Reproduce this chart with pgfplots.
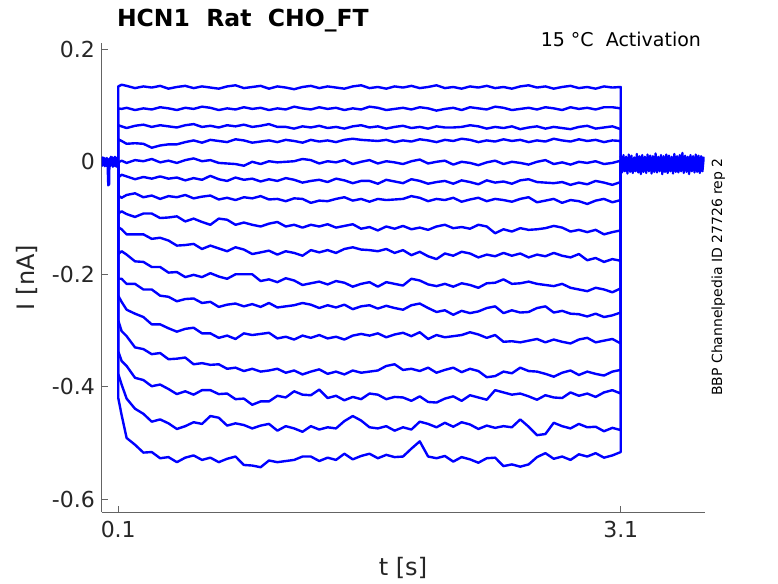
\documentclass[border=0pt]{standalone}
\usepackage{fontspec}
\setmainfont{DejaVu Sans}
\usepackage{pgfplots}
\pgfplotsset{compat=1.18}
\definecolor{trace}{RGB}{0,0,255}
\definecolor{axgray}{RGB}{100,100,100}
\definecolor{txt}{RGB}{38,38,38}
\pgfplotscreateplotcyclelist{tracelist}{trace,mark=none,solid,line width=2.4pt,line join=round\\}
\begin{document}
\begin{tikzpicture}
\useasboundingbox (-101.5pt,-71pt) rectangle (676.5pt,512pt);
\begin{axis}[
  at={(0pt,0pt)}, anchor=south west,
  scale only axis, width=603pt, height=469pt,
  xmin=0, xmax=3.6, ymin=-0.6226, ymax=0.2112,
  axis lines*=left,
  axis line style={axgray, line width=0.7pt},
  tick align=inside, major tick length=6pt,
  tick style={axgray, line width=0.7pt},
  xtick={0.1,3.1}, xticklabels={0.1,3.1},
  ytick={-0.6,-0.4,-0.2,0,0.2},
  yticklabels={-0.6,-0.4,-0.2,{0\hspace{23pt}},{0.2\hspace{7pt}}},
  /pgf/number format/assume math mode=true,
  ticklabel style={font=\fontsize{22}{26}\selectfont, text=txt},
  yticklabel style={anchor=east, xshift=-3.2pt},
  xticklabel style={anchor=north, yshift=-5.7pt},
  cycle list name=tracelist,
]
% pre-step baseline
\addplot+[line width=2.2pt] coordinates {(0.000,0.005)(0.004,-0.007)(0.008,0.008)(0.012,-0.006)(0.016,0.007)(0.020,-0.008)(0.024,0.006)(0.028,-0.007)(0.032,0.007)(0.036,-0.005)(0.040,-0.042)(0.046,-0.040)(0.048,0.006)(0.052,-0.008)(0.056,0.009)(0.060,-0.006)(0.064,0.008)(0.068,-0.009)(0.072,0.007)(0.076,-0.007)(0.080,0.009)(0.084,-0.008)(0.088,0.007)(0.092,-0.009)(0.096,0.008)(0.100,0.000)};
% tail after step
\addplot+[line width=2.2pt] coordinates {(3.100,0.010)(3.108,-0.019)(3.116,0.012)(3.124,-0.017)(3.132,0.009)(3.140,-0.021)(3.148,0.013)(3.156,-0.018)(3.164,0.011)(3.172,-0.020)(3.180,0.008)(3.188,-0.017)(3.196,0.014)(3.204,-0.019)(3.212,0.010)(3.220,-0.022)(3.228,0.012)(3.236,-0.018)(3.244,0.009)(3.252,-0.020)(3.260,0.013)(3.268,-0.017)(3.276,0.011)(3.284,-0.021)(3.292,0.010)(3.300,-0.018)(3.308,0.015)(3.316,-0.019)(3.324,0.009)(3.332,-0.017)(3.340,0.012)(3.348,-0.022)(3.356,0.010)(3.364,-0.018)(3.372,0.013)(3.380,-0.020)(3.388,0.011)(3.396,-0.017)(3.404,0.009)(3.412,-0.021)(3.420,0.014)(3.428,-0.018)(3.436,0.010)(3.444,-0.019)(3.452,0.012)(3.460,-0.017)(3.468,0.016)(3.476,-0.020)(3.484,0.011)(3.492,-0.018)(3.500,0.009)(3.508,-0.022)(3.516,0.012)(3.524,-0.017)(3.532,0.010)(3.540,-0.019)(3.548,0.013)(3.556,-0.018)(3.564,0.011)(3.572,-0.020)(3.580,0.010)(3.588,-0.017)(3.596,0.009)};
% trace 1
\addplot coordinates {(0.1,0)(0.10,0.134)(0.12,0.137)(0.15,0.135)(0.20,0.131)(0.25,0.134)(0.30,0.132)(0.35,0.135)(0.40,0.130)(0.45,0.133)(0.50,0.135)(0.55,0.131)(0.60,0.134)(0.65,0.132)(0.70,0.130)(0.75,0.134)(0.80,0.136)(0.85,0.131)(0.90,0.133)(0.95,0.135)(1.00,0.130)(1.05,0.134)(1.10,0.132)(1.15,0.129)(1.20,0.133)(1.25,0.135)(1.30,0.131)(1.35,0.134)(1.40,0.132)(1.45,0.130)(1.50,0.134)(1.55,0.136)(1.60,0.131)(1.65,0.133)(1.70,0.130)(1.75,0.134)(1.80,0.132)(1.85,0.135)(1.90,0.131)(1.95,0.133)(2.00,0.136)(2.05,0.131)(2.10,0.133)(2.15,0.130)(2.20,0.134)(2.25,0.132)(2.30,0.135)(2.35,0.131)(2.40,0.133)(2.45,0.130)(2.50,0.134)(2.55,0.136)(2.60,0.132)(2.65,0.134)(2.70,0.130)(2.75,0.133)(2.80,0.135)(2.85,0.131)(2.90,0.133)(2.95,0.130)(3.00,0.134)(3.05,0.132)(3.10,0.133)(3.1,0)};
% trace 2
\addplot coordinates {(0.1,0)(0.10,0.095)(0.12,0.094)(0.15,0.096)(0.20,0.092)(0.25,0.095)(0.30,0.093)(0.35,0.097)(0.40,0.095)(0.45,0.092)(0.50,0.096)(0.55,0.094)(0.60,0.098)(0.65,0.096)(0.70,0.092)(0.75,0.095)(0.80,0.093)(0.85,0.097)(0.90,0.094)(0.95,0.096)(1.00,0.092)(1.05,0.095)(1.10,0.093)(1.15,0.098)(1.20,0.095)(1.25,0.093)(1.30,0.097)(1.35,0.094)(1.40,0.096)(1.45,0.092)(1.50,0.095)(1.55,0.093)(1.60,0.098)(1.65,0.096)(1.70,0.092)(1.75,0.094)(1.80,0.096)(1.85,0.093)(1.90,0.097)(1.95,0.095)(2.00,0.091)(2.05,0.094)(2.10,0.096)(2.15,0.092)(2.20,0.097)(2.25,0.095)(2.30,0.093)(2.35,0.098)(2.40,0.096)(2.45,0.092)(2.50,0.094)(2.55,0.096)(2.60,0.093)(2.65,0.097)(2.70,0.095)(2.75,0.092)(2.80,0.097)(2.85,0.094)(2.90,0.096)(2.95,0.093)(3.00,0.097)(3.05,0.097)(3.10,0.095)(3.1,0)};
% trace 3
\addplot coordinates {(0.1,0)(0.10,0.065)(0.12,0.063)(0.15,0.060)(0.20,0.064)(0.25,0.066)(0.30,0.062)(0.35,0.065)(0.40,0.063)(0.45,0.061)(0.50,0.065)(0.55,0.067)(0.60,0.062)(0.65,0.064)(0.70,0.061)(0.75,0.065)(0.80,0.063)(0.85,0.066)(0.90,0.062)(0.95,0.064)(1.00,0.067)(1.05,0.062)(1.10,0.062)(1.15,0.059)(1.20,0.063)(1.25,0.061)(1.30,0.064)(1.35,0.060)(1.40,0.062)(1.45,0.059)(1.50,0.063)(1.55,0.065)(1.60,0.061)(1.65,0.063)(1.70,0.059)(1.75,0.062)(1.80,0.064)(1.85,0.060)(1.90,0.062)(1.95,0.059)(2.00,0.063)(2.05,0.061)(2.10,0.061)(2.15,0.062)(2.20,0.065)(2.25,0.063)(2.30,0.059)(2.35,0.062)(2.40,0.060)(2.45,0.063)(2.50,0.058)(2.55,0.061)(2.60,0.063)(2.65,0.059)(2.70,0.062)(2.75,0.060)(2.80,0.058)(2.85,0.062)(2.90,0.064)(2.95,0.059)(3.00,0.061)(3.05,0.063)(3.10,0.058)(3.1,0)};
% trace 4
\addplot coordinates {(0.1,0)(0.10,0.040)(0.12,0.037)(0.15,0.032)(0.20,0.033)(0.25,0.032)(0.30,0.025)(0.35,0.029)(0.40,0.031)(0.45,0.031)(0.50,0.035)(0.55,0.038)(0.60,0.034)(0.65,0.039)(0.70,0.037)(0.75,0.035)(0.80,0.040)(0.85,0.038)(0.90,0.034)(0.95,0.036)(1.00,0.038)(1.05,0.035)(1.10,0.039)(1.15,0.037)(1.20,0.034)(1.25,0.039)(1.30,0.036)(1.35,0.038)(1.40,0.035)(1.45,0.039)(1.50,0.041)(1.55,0.039)(1.60,0.038)(1.65,0.037)(1.70,0.039)(1.75,0.035)(1.80,0.038)(1.85,0.036)(1.90,0.040)(1.95,0.038)(2.00,0.035)(2.05,0.039)(2.10,0.037)(2.15,0.041)(2.20,0.039)(2.25,0.035)(2.30,0.038)(2.35,0.036)(2.40,0.040)(2.45,0.037)(2.50,0.039)(2.55,0.035)(2.60,0.038)(2.65,0.036)(2.70,0.041)(2.75,0.038)(2.80,0.036)(2.85,0.040)(2.90,0.037)(2.95,0.039)(3.00,0.035)(3.05,0.038)(3.10,0.037)(3.1,0)};
% trace 5
\addplot coordinates {(0.1,0)(0.10,-0.001)(0.12,0.002)(0.15,-0.002)(0.20,0.003)(0.25,0.001)(0.30,0.005)(0.35,-0.001)(0.40,0.002)(0.45,-0.002)(0.50,0.003)(0.55,0.006)(0.60,0.001)(0.65,0.003)(0.70,-0.002)(0.75,-0.003)(0.80,-0.004)(0.85,-0.007)(0.90,0.000)(0.95,-0.004)(1.00,0.001)(1.05,-0.001)(1.10,0.000)(1.15,0.001)(1.20,0.005)(1.25,0.003)(1.30,-0.003)(1.35,0.001)(1.40,-0.001)(1.45,0.003)(1.50,-0.004)(1.55,0.000)(1.60,0.003)(1.65,-0.003)(1.70,0.001)(1.75,-0.001)(1.80,-0.004)(1.85,0.001)(1.90,0.004)(1.95,-0.003)(2.00,0.000)(2.05,0.002)(2.10,-0.005)(2.15,0.000)(2.20,-0.002)(2.25,-0.006)(2.30,-0.001)(2.35,0.002)(2.40,-0.004)(2.45,0.000)(2.50,-0.002)(2.55,-0.005)(2.60,0.000)(2.65,0.003)(2.70,-0.004)(2.75,-0.001)(2.80,-0.005)(2.85,0.000)(2.90,-0.002)(2.95,0.001)(3.00,-0.004)(3.05,-0.002)(3.10,0.002)(3.1,0)};
% trace 6
\addplot coordinates {(0.1,0)(0.10,-0.028)(0.12,-0.023)(0.15,-0.026)(0.20,-0.031)(0.25,-0.027)(0.30,-0.030)(0.35,-0.026)(0.40,-0.030)(0.45,-0.028)(0.50,-0.033)(0.55,-0.029)(0.60,-0.032)(0.65,-0.025)(0.70,-0.031)(0.75,-0.034)(0.80,-0.028)(0.85,-0.032)(0.90,-0.030)(0.95,-0.035)(1.00,-0.031)(1.05,-0.034)(1.10,-0.029)(1.15,-0.032)(1.20,-0.037)(1.25,-0.034)(1.30,-0.032)(1.35,-0.036)(1.40,-0.030)(1.45,-0.033)(1.50,-0.038)(1.55,-0.034)(1.60,-0.034)(1.65,-0.039)(1.70,-0.032)(1.75,-0.035)(1.80,-0.038)(1.85,-0.031)(1.90,-0.034)(1.95,-0.039)(2.00,-0.036)(2.05,-0.034)(2.10,-0.039)(2.15,-0.033)(2.20,-0.036)(2.25,-0.040)(2.30,-0.033)(2.35,-0.037)(2.40,-0.035)(2.45,-0.039)(2.50,-0.033)(2.55,-0.031)(2.60,-0.036)(2.65,-0.037)(2.70,-0.038)(2.75,-0.036)(2.80,-0.041)(2.85,-0.037)(2.90,-0.040)(2.95,-0.034)(3.00,-0.037)(3.05,-0.041)(3.10,-0.036)(3.1,0)};
% trace 7
\addplot coordinates {(0.1,0)(0.10,-0.060)(0.12,-0.064)(0.15,-0.059)(0.20,-0.056)(0.25,-0.063)(0.30,-0.060)(0.35,-0.066)(0.40,-0.061)(0.45,-0.063)(0.50,-0.059)(0.55,-0.065)(0.60,-0.062)(0.65,-0.060)(0.70,-0.067)(0.75,-0.064)(0.80,-0.068)(0.85,-0.063)(0.90,-0.065)(0.95,-0.061)(1.00,-0.067)(1.05,-0.066)(1.10,-0.070)(1.15,-0.065)(1.20,-0.066)(1.25,-0.073)(1.30,-0.069)(1.35,-0.070)(1.40,-0.066)(1.45,-0.063)(1.50,-0.069)(1.55,-0.066)(1.60,-0.071)(1.65,-0.066)(1.70,-0.068)(1.75,-0.067)(1.80,-0.066)(1.85,-0.061)(1.90,-0.064)(1.95,-0.070)(2.00,-0.066)(2.05,-0.068)(2.10,-0.064)(2.15,-0.071)(2.20,-0.067)(2.25,-0.064)(2.30,-0.070)(2.35,-0.066)(2.40,-0.068)(2.45,-0.071)(2.50,-0.066)(2.55,-0.063)(2.60,-0.072)(2.65,-0.069)(2.70,-0.066)(2.75,-0.073)(2.80,-0.068)(2.85,-0.070)(2.90,-0.075)(2.95,-0.069)(3.00,-0.066)(3.05,-0.072)(3.10,-0.068)(3.1,0)};
% trace 8
\addplot coordinates {(0.1,0)(0.10,-0.092)(0.12,-0.088)(0.15,-0.093)(0.20,-0.098)(0.25,-0.092)(0.30,-0.092)(0.35,-0.100)(0.40,-0.099)(0.45,-0.097)(0.50,-0.106)(0.55,-0.101)(0.60,-0.107)(0.65,-0.112)(0.70,-0.101)(0.75,-0.103)(0.80,-0.112)(0.85,-0.108)(0.90,-0.112)(0.95,-0.115)(1.00,-0.110)(1.05,-0.107)(1.10,-0.115)(1.15,-0.112)(1.20,-0.117)(1.25,-0.112)(1.30,-0.115)(1.35,-0.111)(1.40,-0.117)(1.45,-0.114)(1.50,-0.111)(1.55,-0.119)(1.60,-0.116)(1.65,-0.122)(1.70,-0.115)(1.75,-0.119)(1.80,-0.114)(1.85,-0.120)(1.90,-0.117)(1.95,-0.121)(2.00,-0.115)(2.05,-0.112)(2.10,-0.118)(2.15,-0.116)(2.20,-0.119)(2.25,-0.112)(2.30,-0.115)(2.35,-0.127)(2.40,-0.120)(2.45,-0.124)(2.50,-0.118)(2.55,-0.121)(2.60,-0.120)(2.65,-0.118)(2.70,-0.114)(2.75,-0.117)(2.80,-0.124)(2.85,-0.121)(2.90,-0.125)(2.95,-0.121)(3.00,-0.129)(3.05,-0.125)(3.10,-0.122)(3.1,0)};
% trace 9
\addplot coordinates {(0.1,0)(0.10,-0.116)(0.12,-0.120)(0.15,-0.129)(0.20,-0.129)(0.25,-0.129)(0.30,-0.137)(0.35,-0.135)(0.40,-0.140)(0.45,-0.149)(0.50,-0.148)(0.55,-0.146)(0.60,-0.155)(0.65,-0.149)(0.70,-0.154)(0.75,-0.159)(0.80,-0.152)(0.85,-0.156)(0.90,-0.164)(0.95,-0.161)(1.00,-0.158)(1.05,-0.165)(1.10,-0.159)(1.15,-0.162)(1.20,-0.167)(1.25,-0.157)(1.30,-0.161)(1.35,-0.157)(1.40,-0.162)(1.45,-0.155)(1.50,-0.152)(1.55,-0.156)(1.60,-0.157)(1.65,-0.159)(1.70,-0.155)(1.75,-0.162)(1.80,-0.157)(1.85,-0.166)(1.90,-0.160)(1.95,-0.168)(2.00,-0.173)(2.05,-0.163)(2.10,-0.167)(2.15,-0.160)(2.20,-0.163)(2.25,-0.170)(2.30,-0.165)(2.35,-0.168)(2.40,-0.162)(2.45,-0.167)(2.50,-0.163)(2.55,-0.170)(2.60,-0.165)(2.65,-0.168)(2.70,-0.162)(2.75,-0.167)(2.80,-0.170)(2.85,-0.164)(2.90,-0.175)(2.95,-0.171)(3.00,-0.178)(3.05,-0.173)(3.10,-0.176)(3.1,0)};
% trace 10
\addplot coordinates {(0.1,0)(0.10,-0.164)(0.12,-0.159)(0.15,-0.165)(0.20,-0.177)(0.25,-0.178)(0.30,-0.187)(0.35,-0.187)(0.40,-0.197)(0.45,-0.196)(0.50,-0.205)(0.55,-0.201)(0.60,-0.205)(0.65,-0.198)(0.70,-0.204)(0.75,-0.208)(0.80,-0.200)(0.85,-0.200)(0.90,-0.200)(0.95,-0.212)(1.00,-0.209)(1.05,-0.214)(1.10,-0.207)(1.15,-0.211)(1.20,-0.219)(1.25,-0.216)(1.30,-0.213)(1.35,-0.218)(1.40,-0.212)(1.45,-0.215)(1.50,-0.222)(1.55,-0.217)(1.60,-0.214)(1.65,-0.222)(1.70,-0.214)(1.75,-0.217)(1.80,-0.220)(1.85,-0.208)(1.90,-0.211)(1.95,-0.218)(2.00,-0.221)(2.05,-0.217)(2.10,-0.222)(2.15,-0.216)(2.20,-0.219)(2.25,-0.224)(2.30,-0.216)(2.35,-0.215)(2.40,-0.209)(2.45,-0.217)(2.50,-0.216)(2.55,-0.213)(2.60,-0.217)(2.65,-0.219)(2.70,-0.221)(2.75,-0.217)(2.80,-0.224)(2.85,-0.227)(2.90,-0.230)(2.95,-0.224)(3.00,-0.227)(3.05,-0.232)(3.10,-0.225)(3.1,0)};
% trace 11
\addplot coordinates {(0.1,0)(0.10,-0.208)(0.12,-0.208)(0.15,-0.217)(0.20,-0.217)(0.25,-0.227)(0.30,-0.227)(0.35,-0.238)(0.40,-0.240)(0.45,-0.248)(0.50,-0.244)(0.55,-0.243)(0.60,-0.251)(0.65,-0.249)(0.70,-0.258)(0.75,-0.254)(0.80,-0.252)(0.85,-0.257)(0.90,-0.253)(0.95,-0.258)(1.00,-0.251)(1.05,-0.259)(1.10,-0.257)(1.15,-0.255)(1.20,-0.251)(1.25,-0.254)(1.30,-0.260)(1.35,-0.255)(1.40,-0.259)(1.45,-0.254)(1.50,-0.262)(1.55,-0.257)(1.60,-0.255)(1.65,-0.261)(1.70,-0.256)(1.75,-0.260)(1.80,-0.263)(1.85,-0.255)(1.90,-0.252)(1.95,-0.260)(2.00,-0.267)(2.05,-0.264)(2.10,-0.272)(2.15,-0.265)(2.20,-0.269)(2.25,-0.266)(2.30,-0.260)(2.35,-0.257)(2.40,-0.269)(2.45,-0.264)(2.50,-0.268)(2.55,-0.267)(2.60,-0.260)(2.65,-0.257)(2.70,-0.268)(2.75,-0.265)(2.80,-0.270)(2.85,-0.271)(2.90,-0.275)(2.95,-0.270)(3.00,-0.276)(3.05,-0.273)(3.10,-0.268)(3.1,0)};
% trace 12
\addplot coordinates {(0.1,0)(0.10,-0.238)(0.12,-0.249)(0.15,-0.263)(0.20,-0.270)(0.25,-0.276)(0.30,-0.289)(0.35,-0.289)(0.40,-0.296)(0.45,-0.302)(0.50,-0.297)(0.55,-0.295)(0.60,-0.305)(0.65,-0.305)(0.70,-0.313)(0.75,-0.309)(0.80,-0.315)(0.85,-0.305)(0.90,-0.308)(0.95,-0.306)(1.00,-0.304)(1.05,-0.314)(1.10,-0.311)(1.15,-0.316)(1.20,-0.309)(1.25,-0.313)(1.30,-0.308)(1.35,-0.314)(1.40,-0.311)(1.45,-0.316)(1.50,-0.309)(1.55,-0.306)(1.60,-0.309)(1.65,-0.305)(1.70,-0.312)(1.75,-0.307)(1.80,-0.304)(1.85,-0.310)(1.90,-0.303)(1.95,-0.315)(2.00,-0.308)(2.05,-0.312)(2.10,-0.310)(2.15,-0.308)(2.20,-0.303)(2.25,-0.307)(2.30,-0.313)(2.35,-0.308)(2.40,-0.320)(2.45,-0.319)(2.50,-0.321)(2.55,-0.318)(2.60,-0.315)(2.65,-0.321)(2.70,-0.316)(2.75,-0.320)(2.80,-0.323)(2.85,-0.316)(2.90,-0.313)(2.95,-0.321)(3.00,-0.318)(3.05,-0.315)(3.10,-0.323)(3.1,0)};
% trace 13
\addplot coordinates {(0.1,0)(0.10,-0.282)(0.12,-0.301)(0.15,-0.310)(0.20,-0.330)(0.25,-0.333)(0.30,-0.342)(0.35,-0.340)(0.40,-0.351)(0.45,-0.350)(0.50,-0.348)(0.55,-0.360)(0.60,-0.358)(0.65,-0.361)(0.70,-0.360)(0.75,-0.368)(0.80,-0.366)(0.85,-0.372)(0.90,-0.368)(0.95,-0.373)(1.00,-0.371)(1.05,-0.368)(1.10,-0.375)(1.15,-0.371)(1.20,-0.378)(1.25,-0.373)(1.30,-0.369)(1.35,-0.377)(1.40,-0.373)(1.45,-0.378)(1.50,-0.371)(1.55,-0.375)(1.60,-0.373)(1.65,-0.371)(1.70,-0.363)(1.75,-0.360)(1.80,-0.370)(1.85,-0.368)(1.90,-0.372)(1.95,-0.366)(2.00,-0.375)(2.05,-0.370)(2.10,-0.366)(2.15,-0.374)(2.20,-0.368)(2.25,-0.372)(2.30,-0.383)(2.35,-0.381)(2.40,-0.373)(2.45,-0.376)(2.50,-0.366)(2.55,-0.372)(2.60,-0.373)(2.65,-0.377)(2.70,-0.382)(2.75,-0.375)(2.80,-0.371)(2.85,-0.379)(2.90,-0.373)(2.95,-0.377)(3.00,-0.380)(3.05,-0.373)(3.10,-0.370)(3.1,0)};
% trace 14
\addplot coordinates {(0.1,0)(0.10,-0.337)(0.12,-0.354)(0.15,-0.363)(0.20,-0.384)(0.25,-0.388)(0.30,-0.399)(0.35,-0.396)(0.40,-0.404)(0.45,-0.413)(0.50,-0.408)(0.55,-0.414)(0.60,-0.406)(0.65,-0.406)(0.70,-0.413)(0.75,-0.412)(0.80,-0.422)(0.85,-0.421)(0.90,-0.432)(0.95,-0.426)(1.00,-0.426)(1.05,-0.416)(1.10,-0.419)(1.15,-0.408)(1.20,-0.414)(1.25,-0.415)(1.30,-0.405)(1.35,-0.420)(1.40,-0.416)(1.45,-0.424)(1.50,-0.418)(1.55,-0.422)(1.60,-0.412)(1.65,-0.414)(1.70,-0.422)(1.75,-0.418)(1.80,-0.419)(1.85,-0.425)(1.90,-0.417)(1.95,-0.427)(2.00,-0.428)(2.05,-0.421)(2.10,-0.417)(2.15,-0.425)(2.20,-0.415)(2.25,-0.419)(2.30,-0.423)(2.35,-0.406)(2.40,-0.410)(2.45,-0.414)(2.50,-0.412)(2.55,-0.417)(2.60,-0.423)(2.65,-0.415)(2.70,-0.419)(2.75,-0.420)(2.80,-0.410)(2.85,-0.416)(2.90,-0.412)(2.95,-0.418)(3.00,-0.410)(3.05,-0.406)(3.10,-0.412)(3.1,0)};
% trace 15
\addplot coordinates {(0.1,0)(0.10,-0.377)(0.12,-0.396)(0.15,-0.421)(0.20,-0.439)(0.25,-0.448)(0.30,-0.462)(0.35,-0.458)(0.40,-0.465)(0.45,-0.475)(0.50,-0.470)(0.55,-0.463)(0.60,-0.466)(0.65,-0.452)(0.70,-0.455)(0.75,-0.469)(0.80,-0.465)(0.85,-0.468)(0.90,-0.474)(0.95,-0.469)(1.00,-0.466)(1.05,-0.478)(1.10,-0.470)(1.15,-0.474)(1.20,-0.480)(1.25,-0.470)(1.30,-0.476)(1.35,-0.472)(1.40,-0.474)(1.45,-0.461)(1.50,-0.452)(1.55,-0.460)(1.60,-0.472)(1.65,-0.474)(1.70,-0.470)(1.75,-0.478)(1.80,-0.472)(1.85,-0.476)(1.90,-0.462)(1.95,-0.466)(2.00,-0.472)(2.05,-0.464)(2.10,-0.471)(2.15,-0.463)(2.20,-0.467)(2.25,-0.475)(2.30,-0.469)(2.35,-0.473)(2.40,-0.470)(2.45,-0.472)(2.50,-0.458)(2.55,-0.471)(2.60,-0.486)(2.65,-0.484)(2.70,-0.464)(2.75,-0.470)(2.80,-0.474)(2.85,-0.466)(2.90,-0.472)(2.95,-0.471)(3.00,-0.479)(3.05,-0.473)(3.10,-0.477)(3.1,0)};
% trace 16
\addplot coordinates {(0.1,0)(0.10,-0.420)(0.12,-0.450)(0.15,-0.491)(0.20,-0.503)(0.25,-0.517)(0.30,-0.516)(0.35,-0.527)(0.40,-0.525)(0.45,-0.534)(0.50,-0.526)(0.55,-0.522)(0.60,-0.530)(0.65,-0.526)(0.70,-0.534)(0.75,-0.528)(0.80,-0.524)(0.85,-0.539)(0.90,-0.540)(0.95,-0.543)(1.00,-0.531)(1.05,-0.534)(1.10,-0.532)(1.15,-0.530)(1.20,-0.524)(1.25,-0.524)(1.30,-0.532)(1.35,-0.526)(1.40,-0.530)(1.45,-0.519)(1.50,-0.529)(1.55,-0.523)(1.60,-0.519)(1.65,-0.527)(1.70,-0.521)(1.75,-0.525)(1.80,-0.524)(1.85,-0.510)(1.90,-0.497)(1.95,-0.524)(2.00,-0.527)(2.05,-0.523)(2.10,-0.533)(2.15,-0.525)(2.20,-0.529)(2.25,-0.535)(2.30,-0.527)(2.35,-0.526)(2.40,-0.541)(2.45,-0.538)(2.50,-0.542)(2.55,-0.538)(2.60,-0.525)(2.65,-0.518)(2.70,-0.528)(2.75,-0.524)(2.80,-0.530)(2.85,-0.520)(2.90,-0.524)(2.95,-0.518)(3.00,-0.526)(3.05,-0.522)(3.10,-0.516)(3.1,0)};
\end{axis}
\node[anchor=base west, font=\fontsize{23.5}{28}\selectfont\bfseries] at (12pt,485.3pt) {HCN1\ \ Rat\ \ CHO\_FT};
\node[anchor=base east, font=\fontsize{19}{23}\selectfont] at (603pt,465pt) {15 °C\ \ Activation};
\node[anchor=base, rotate=90, font=\fontsize{14}{17}\selectfont] at (620.5pt,235pt) {BBP Channelpedia ID 27726 rep 2};
\node[anchor=base, font=\fontsize{24}{28}\selectfont, text=txt] at (301.5pt,-63pt) {t [s]};
\node[anchor=base, rotate=90, font=\fontsize{24}{28}\selectfont, text=txt] at (-66.5pt,234.5pt) {I [nA]};
\end{tikzpicture}
\end{document}
